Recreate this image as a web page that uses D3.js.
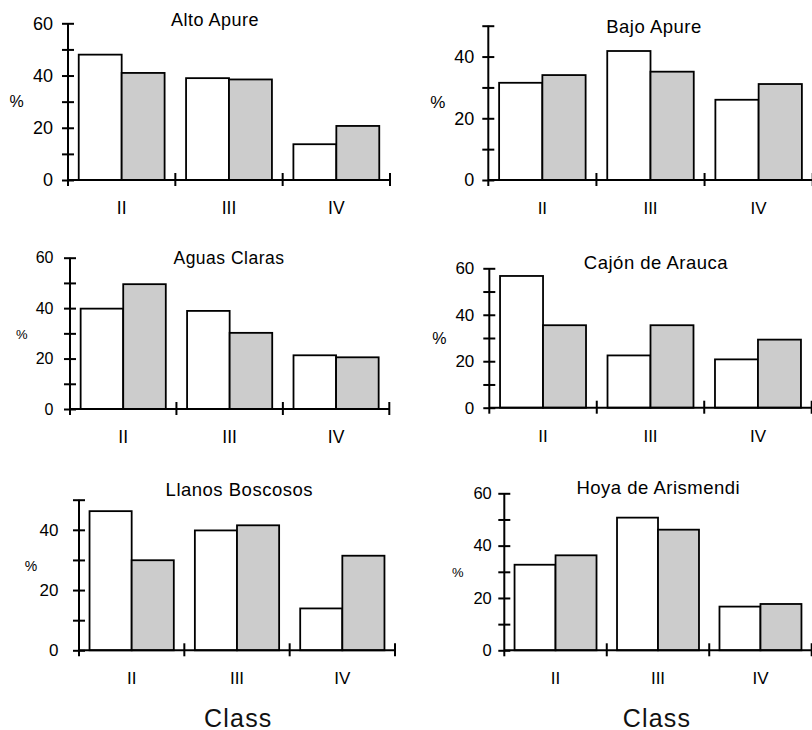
<!DOCTYPE html>
<html>
<head>
<meta charset="utf-8">
<script src="https://cdn.jsdelivr.net/npm/d3@7"></script>
<style>
  body { margin: 0; background: #fff; }
  svg { display: block; font-family: "Liberation Sans", Arial, Helvetica, sans-serif; }
</style>
</head>
<body>
<div id="chart"></div>
<script>
// chart values
var classes = ["II", "III", "IV"];
var regions = ["Alto Apure", "Bajo Apure", "Aguas Claras", "Cajón de Arauca", "Llanos Boscosos", "Hoya de Arismendi"];
var series = ["white", "gray"];
var whiteValues = [
    [48, 39, 13.7],
    [31.5, 41.8, 26],
    [39.8, 38.9, 21.3],
    [56.7, 22.5, 20.8],
    [46.2, 39.8, 13.9],
    [32.7, 50.7, 16.7]
];
var grayValues = [
    [41, 38.5, 20.7],
    [34, 35.1, 31.1],
    [49.5, 30.2, 20.5],
    [35.5, 35.5, 29.3],
    [29.9, 41.5, 31.4],
    [36.3, 46.1, 17.7]
];
var yMaxes = [60, 50, 60, 60, 50, 60];
var yLabelStep = 20;
var yMinorStep = 10;
var yAxisLabel = "%";
var xAxisLabel = "Class";

// where each panel sits on the page (pixels) and its text sizes
var panels = [
    {left: 68,    right: 390,   y0: 180,   yTop: 23.3,  tx: 215,   ty: 26,    px: 16.7,  py: 101, fs: 18,   tfs: 18,   xfs: 17.5, pfs: 16, lab: 15},
    {left: 488.3, right: 812.7, y0: 180,   yTop: 25.7,  tx: 654,   ty: 33.3,  px: 437.7, py: 102, fs: 18,   tfs: 18.5, xfs: 17,   pfs: 17, lab: 14},
    {left: 70,    right: 389.3, y0: 409,   yTop: 257.7, tx: 229,   ty: 264.3, px: 21.7,  py: 334, fs: 16,   tfs: 17.5, xfs: 17.5, pfs: 13, lab: 16.5},
    {left: 489.3, right: 811.7, y0: 407.7, yTop: 268.3, tx: 656,   ty: 269,   px: 439.3, py: 338, fs: 17,   tfs: 18.5, xfs: 17,   pfs: 16, lab: 15},
    {left: 79,    right: 395,   y0: 650.3, yTop: 499.7, tx: 239.3, ty: 495.7, px: 31,    py: 566, fs: 17,   tfs: 18.5, xfs: 17,   pfs: 14, lab: 20.5},
    {left: 504.3, right: 811.7, y0: 650.3, yTop: 493.3, tx: 658.3, ty: 494,   px: 457.7, py: 572, fs: 16.5, tfs: 18.5, xfs: 17,   pfs: 13, lab: 12.5}
];
var classLabelPos = [{x: 238.3, y: 726.5}, {x: 657, y: 726.5}];

var W = 812, H = 730;
var svg = d3.select("#chart").append("svg")
    .attr("width", W)
    .attr("height", H);

function drawPanel(i) {
    var p = panels[i];
    var g = svg.append("g");

    var x = d3.scaleBand().domain(classes).range([p.left, p.right]).padding(0);
    var inner = d3.scaleBand().domain(series).range([0, x.bandwidth()]).paddingInner(0).paddingOuter(0.25);
    var y = d3.scaleLinear().domain([0, yMaxes[i]]).range([p.y0, p.yTop]);

    var rows = classes.map(function(c, k) {
        return {cls: c, white: whiteValues[i][k], gray: grayValues[i][k]};
    });

    // bars
    var groups = g.selectAll(".cls")
        .data(rows)
        .enter().append("g")
        .attr("transform", function(d) { return "translate(" + x(d.cls) + ",0)"; });

    groups.selectAll("rect")
        .data(function(d) { return series.map(function(s) { return {s: s, v: d[s]}; }); })
        .enter().append("rect")
        .attr("x", function(d) { return inner(d.s); })
        .attr("y", function(d) { return y(d.v); })
        .attr("width", inner.bandwidth())
        .attr("height", function(d) { return y(0) - y(d.v); })
        .attr("fill", function(d) { return d.s === "white" ? "#ffffff" : "#cccccc"; })
        .attr("stroke", "#000")
        .attr("stroke-width", 1.8);

    // y axis, ticks cross the line
    var yAxis = d3.axisLeft(y)
        .tickValues(d3.range(0, yMaxes[i] + 1, yMinorStep))
        .tickSizeInner(6)
        .tickSizeOuter(0)
        .tickPadding(p.lab - 6)
        .tickFormat(function(d) { return d % yLabelStep === 0 ? d : ""; });

    var ya = g.append("g")
        .attr("transform", "translate(" + p.left + ",0)")
        .call(yAxis);
    ya.select(".domain").remove();
    ya.selectAll(".tick line")
        .attr("x1", 6).attr("x2", -6)
        .attr("stroke", "#000").attr("stroke-width", 2);
    ya.selectAll(".tick text")
        .attr("font-size", p.fs)
        .attr("fill", "#000");
    g.append("line")
        .attr("x1", p.left).attr("x2", p.left)
        .attr("y1", y(yMaxes[i])).attr("y2", y(0) + 6)
        .attr("stroke", "#000").attr("stroke-width", 2);

    // x axis
    var xAxis = d3.axisBottom(x).tickSize(0).tickPadding(34 - 0.71 * p.xfs);
    var xa = g.append("g")
        .attr("transform", "translate(0," + p.y0 + ")")
        .call(xAxis);
    xa.select(".domain").remove();
    xa.selectAll(".tick text")
        .attr("font-size", p.xfs)
        .attr("fill", "#000");
    g.append("line")
        .attr("x1", p.left).attr("x2", x.range()[1])
        .attr("y1", p.y0).attr("y2", p.y0)
        .attr("stroke", "#000").attr("stroke-width", 2);

    // class boundary ticks
    g.selectAll(".bound")
        .data(classes)
        .enter().append("line")
        .attr("x1", function(c) { return x(c) + x.bandwidth(); })
        .attr("x2", function(c) { return x(c) + x.bandwidth(); })
        .attr("y1", p.y0 - 7)
        .attr("y2", p.y0 + 6)
        .attr("stroke", "#000").attr("stroke-width", 2);

    // title
    g.append("text")
        .attr("x", p.tx).attr("y", p.ty)
        .attr("text-anchor", "middle")
        .attr("font-size", p.tfs)
        .attr("letter-spacing", 0.5)
        .text(regions[i]);

    // % label
    g.append("text")
        .attr("x", p.px).attr("y", p.py)
        .attr("text-anchor", "middle")
        .attr("dominant-baseline", "central")
        .attr("font-size", p.pfs)
        .text(yAxisLabel);
}

for (var i = 0; i < panels.length; i++) {
    drawPanel(i);
}

svg.selectAll(".classlabel")
    .data(classLabelPos)
    .enter().append("text")
    .attr("x", function(d) { return d.x; })
    .attr("y", function(d) { return d.y; })
    .attr("text-anchor", "middle")
    .attr("font-size", 25)
    .attr("letter-spacing", 1.2)
    .attr("fill", "#111")
    .text(xAxisLabel);
</script>
</body>
</html>
